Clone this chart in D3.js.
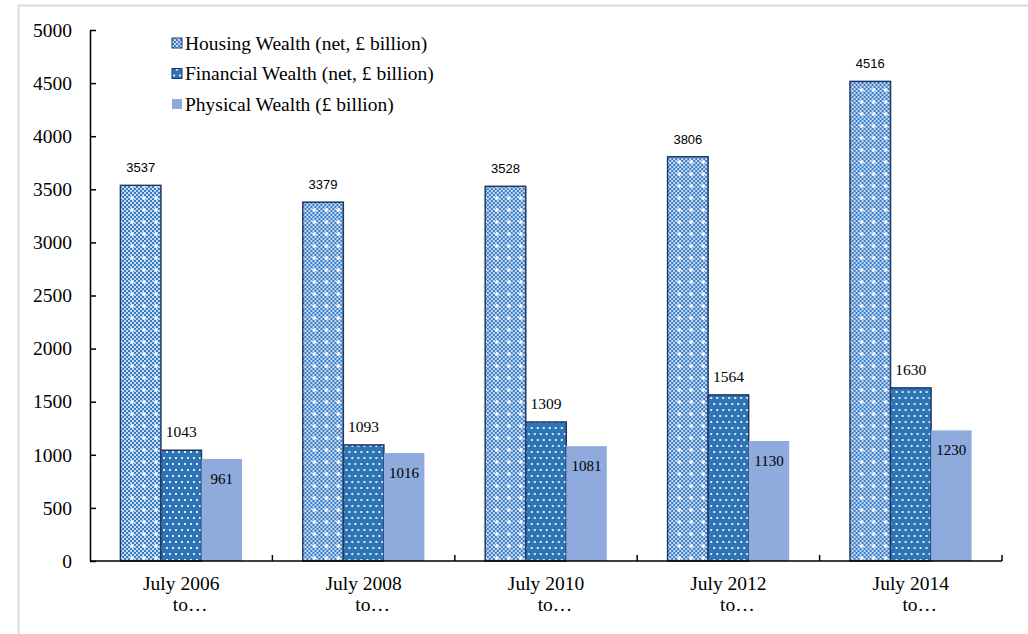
<!DOCTYPE html>
<html>
<head>
<meta charset="utf-8">
<script src="https://cdn.jsdelivr.net/npm/d3@7"></script>
<style>
  html, body { margin: 0; padding: 0; background: #fff; }
  svg { display: block; }
  .serif { font-family: "Liberation Serif", "DejaVu Serif", serif; }
  .sans { font-family: "Liberation Sans", Arial, sans-serif; }
</style>
</head>
<body>
<svg id="chart" width="1028" height="634"></svg>
<script>
// Household wealth by component, per survey period
const periods = ["July 2006", "July 2008", "July 2010", "July 2012", "July 2014"];
const housing = [3537, 3379, 3528, 3806, 4516];
const financial = [1043, 1093, 1309, 1564, 1630];
const physical = [961, 1016, 1081, 1130, 1230];
const seriesNames = ["Housing Wealth (net, £ billion)", "Financial Wealth (net, £ billion)", "Physical Wealth (£ billion)"];
const yTicks = [0, 500, 1000, 1500, 2000, 2500, 3000, 3500, 4000, 4500, 5000];

const svg = d3.select("#chart");

// Outer frame
svg.append("path").attr("d", "M18.5,640 V5.5 H1040")
  .attr("fill", "none").attr("stroke", "#d9d9d9").attr("stroke-width", 2);

// Fill patterns
const defs = svg.append("defs");
const ph = defs.append("pattern").attr("id", "pHousing")
  .attr("patternUnits", "userSpaceOnUse").attr("width", 12).attr("height", 12);
ph.append("rect").attr("width", 12).attr("height", 12).attr("fill", "#c6daf0");
for (let i = 0; i < 6; i++) for (let j = 0; j < 6; j++) {
  if ((i + j) % 2 === 0) ph.append("rect").attr("x", i * 2).attr("y", j * 2)
    .attr("width", 2).attr("height", 2).attr("fill", "#3a7cc5");
}
ph.append("rect").attr("x", 5).attr("y", 4).attr("width", 2).attr("height", 4).attr("fill", "#eef4fb");
ph.append("rect").attr("x", 4).attr("y", 5).attr("width", 4).attr("height", 2).attr("fill", "#eef4fb");

const pf = defs.append("pattern").attr("id", "pFinancial")
  .attr("patternUnits", "userSpaceOnUse").attr("width", 12).attr("height", 12);
pf.append("rect").attr("width", 12).attr("height", 12).attr("fill", "#2e75b6");
[[1, 1], [7, 1], [4, 7], [10, 7]].forEach(([x, y]) =>
  pf.append("rect").attr("x", x).attr("y", y).attr("width", 2).attr("height", 2).attr("fill", "#dce7f3"));

const fills = ["url(#pHousing)", "url(#pFinancial)", "#8faadc"];
const strokes = ["#1f3864", "#1f3864", "none"];

// Scales
const x0 = d3.scaleBand().domain(periods).range([90, 1002]).paddingInner(0).paddingOuter(0);
const x1 = d3.scaleBand().domain([0, 1, 2]).range([0, x0.bandwidth()]).paddingOuter(0.75).paddingInner(0);
const y = d3.scaleLinear().domain([0, 5000]).range([561, 30]);

const rows = periods.map((p, i) => ({ p, vals: [housing[i], financial[i], physical[i]] }));

const groups = svg.append("g").selectAll("g").data(rows).join("g")
  .attr("transform", d => `translate(${x0(d.p)},0)`);

groups.selectAll("rect").data(d => d.vals.map((v, k) => ({ v, k }))).join("rect")
  .attr("x", d => x1(d.k))
  .attr("y", d => y(d.v))
  .attr("width", x1.bandwidth())
  .attr("height", d => y(0) - y(d.v))
  .attr("fill", d => fills[d.k])
  .attr("stroke", d => strokes[d.k])
  .attr("stroke-width", 1.5);

// Value labels
groups.each(function (d) {
  const g = d3.select(this);
  const cx = k => x1(k) + x1.bandwidth() / 2;
  g.append("text").attr("class", "sans").attr("x", cx(0)).attr("y", y(d.vals[0]) - 13)
    .attr("text-anchor", "middle").attr("font-size", 13)
    .attr("fill", "#000").text(d.vals[0]);
  g.append("text").attr("class", "serif").attr("x", cx(1)).attr("y", y(d.vals[1]) - 13)
    .attr("text-anchor", "middle").attr("font-size", 15.5)
    .attr("fill", "#000").text(d.vals[1]);
  g.append("text").attr("class", "serif").attr("x", cx(2)).attr("y", y(d.vals[2]) + 25)
    .attr("text-anchor", "middle").attr("font-size", 15)
    .attr("fill", "#000").text(d.vals[2]);
});

// Y axis
const yAxis = svg.append("g").attr("transform", "translate(90,0)")
  .call(d3.axisLeft(y).tickValues(yTicks).tickFormat(d3.format("d"))
    .tickSize(-6).tickPadding(18).tickSizeOuter(0));
yAxis.attr("font-family", null).attr("font-size", null);
yAxis.select(".domain").attr("stroke", "#000").attr("stroke-width", 1.5);
yAxis.selectAll(".tick line").attr("stroke", "#000").attr("stroke-width", 1.5);
yAxis.selectAll(".tick text").attr("class", "serif").attr("font-size", 19.5).attr("fill", "#000");

// X axis with category boundary ticks
const xAxisG = svg.append("g");
xAxisG.append("line").attr("x1", 90).attr("x2", 1002).attr("y1", y(0)).attr("y2", y(0))
  .attr("stroke", "#000").attr("stroke-width", 1.5);
const bounds = periods.map(p => x0(p) + x0.bandwidth());
xAxisG.selectAll("line.b").data(bounds).join("line").attr("class", "b")
  .attr("x1", d => d).attr("x2", d => d).attr("y1", y(0)).attr("y2", y(0) - 6)
  .attr("stroke", "#000").attr("stroke-width", 1.5);
const labels = xAxisG.selectAll("text").data(periods).join("text")
  .attr("class", "serif").attr("font-size", 19.5).attr("fill", "#000")
  .attr("text-anchor", "middle");
labels.append("tspan").attr("x", d => x0(d) + x0.bandwidth() / 2).attr("y", 590).text(d => d);
labels.append("tspan").attr("x", d => x0(d) + x0.bandwidth() / 2 + 9).attr("y", 611).text("to…");

// Legend
const legend = svg.append("g").selectAll("g").data(seriesNames).join("g")
  .attr("transform", (d, i) => `translate(172,${43 + i * 30.5})`);
legend.append("rect").attr("x", 0).attr("y", -5).attr("width", 10).attr("height", 10)
  .attr("fill", (d, i) => fills[i]).attr("stroke", (d, i) => strokes[i]).attr("stroke-width", 1);
legend.append("text").attr("class", "serif").attr("x", 13).attr("y", 6.5)
  .attr("font-size", 19.5).attr("fill", "#000").text(d => d);
</script>
</body>
</html>
